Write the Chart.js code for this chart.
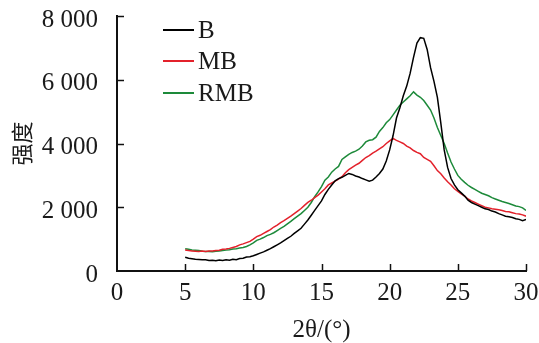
<!DOCTYPE html>
<html>
<head>
<meta charset="utf-8">
<script src="https://cdn.jsdelivr.net/npm/chart.js@4/dist/chart.umd.min.js"></script>
<style>
  html, body { margin: 0; padding: 0; background: #fff; }
  #wrap { width: 539px; height: 343px; }
</style>
</head>
<body>
<div id="wrap"><canvas id="c" width="539" height="343"></canvas></div>
<script>
// 2θ positions (°)
const angles = [
  5, 5.25, 5.5, 5.75, 6, 6.25, 6.5, 6.75, 7, 7.25, 7.5, 7.75, 8, 8.25, 8.5, 8.75,
  9, 9.25, 9.5, 9.75, 10, 10.25, 10.5, 10.75, 11, 11.25, 11.5, 11.75, 12, 12.25, 12.5, 12.75,
  13, 13.25, 13.5, 13.75, 14, 14.25, 14.5, 14.75, 15, 15.25, 15.5, 15.75, 16, 16.25, 16.5, 16.75,
  17, 17.25, 17.5, 17.75, 18, 18.25, 18.5, 18.75, 19, 19.25, 19.5, 19.75, 20, 20.25, 20.5, 20.75,
  21, 21.25, 21.5, 21.75, 22, 22.25, 22.5, 22.75, 23, 23.25, 23.5, 23.75, 24, 24.25, 24.5, 24.75,
  25, 25.25, 25.5, 25.75, 26, 26.25, 26.5, 26.75, 27, 27.25, 27.5, 27.75, 28, 28.25, 28.5, 28.75,
  29, 29.25, 29.5, 29.75, 30
];
const seriesNames = ['B', 'MB', 'RMB'];
const intensityB = [
  430, 400, 385, 370, 360, 350, 355, 330, 340, 320, 345, 330, 350, 340, 370, 355,
  390, 400, 440, 450, 480, 520, 560, 600, 650, 700, 760, 820, 880, 950, 1020, 1090,
  1180, 1260, 1340, 1470, 1600, 1750, 1900, 2050, 2200, 2400, 2560, 2700, 2830, 2900, 2940, 3000,
  3060, 3030, 2980, 2950, 2900, 2860, 2820, 2850, 2950, 3060, 3200, 3450, 3800, 4250, 4800, 5120,
  5500, 5800, 6200, 6700, 7150, 7320, 7300, 6950, 6380, 5950, 5450, 4650, 3800, 3250, 2900, 2700,
  2550, 2450, 2350, 2220, 2150, 2100, 2050, 2000, 1950, 1930, 1880, 1850, 1800, 1760, 1720, 1700,
  1680, 1640, 1620, 1580, 1620
];
const intensityMB = [
  660, 640, 630, 620, 610, 625, 615, 630, 625, 640, 650, 680, 690, 710, 740, 770,
  820, 850, 890, 930, 1000, 1080, 1120, 1180, 1240, 1300, 1380, 1440, 1520, 1580, 1650, 1720,
  1800, 1880, 1960, 2060, 2150, 2220, 2300, 2380, 2480, 2580, 2700, 2760, 2820, 2880, 2960, 3080,
  3180, 3250, 3320, 3380, 3470, 3560, 3620, 3700, 3760, 3830, 3900, 4000, 4080, 4160, 4100, 4050,
  4000, 3920, 3860, 3780, 3720, 3680, 3560, 3500, 3440, 3300, 3150, 3050, 2920, 2800, 2700, 2580,
  2500, 2420, 2350, 2260, 2200, 2150, 2100, 2050, 2000, 1980, 1950, 1940, 1920, 1900, 1870, 1860,
  1830, 1800, 1790, 1760, 1720
];
const intensityRMB = [
  700, 680, 660, 650, 640, 620, 610, 615, 605, 620, 630, 640, 655, 665, 690, 700,
  720, 740, 770, 820, 880, 960, 1000, 1050, 1110, 1150, 1200, 1270, 1340, 1400, 1480, 1560,
  1640, 1720, 1800, 1900, 2000, 2150, 2330, 2480, 2650, 2850, 2950, 3100, 3200, 3280, 3500, 3580,
  3660, 3720, 3760, 3820, 3920, 4050, 4100, 4120, 4200, 4380, 4500, 4650, 4750, 4900, 5050, 5200,
  5300, 5400, 5500, 5620, 5520, 5450, 5350, 5200, 5050, 4800, 4500, 4250, 4000, 3700, 3420, 3200,
  3000, 2880, 2780, 2690, 2620, 2560, 2500, 2440, 2400, 2360, 2300, 2260, 2220, 2180, 2150, 2120,
  2080, 2040, 2020, 1980, 1900
];
const xTickValues = [0, 5, 10, 15, 20, 25, 30];
const yTickValues = [0, 2000, 4000, 6000, 8000];
const xTitle = '2θ/(°)';
const yTitle = '强度';

const colors = ['#000000', '#e3212b', '#1d8a3a'];
const series = [intensityB, intensityMB, intensityRMB];

const serif = "'Liberation Serif', 'Times New Roman', serif";

function fmt(v) {
  return String(v).replace(/\B(?=(\d{3})+(?!\d))/g, ' ');
}

const innerTicks = {
  id: 'innerTicks',
  afterDraw(chart) {
    const { ctx, scales: { x, y } } = chart;
    ctx.save();
    ctx.strokeStyle = '#111';
    ctx.lineWidth = 1.5;
    y.ticks.forEach(t => {
      if (t.value === 0) return;
      const py = Math.round(y.getPixelForValue(t.value)) + 0.5;
      ctx.beginPath(); ctx.moveTo(x.left, py); ctx.lineTo(x.left + 7, py); ctx.stroke();
    });
    x.ticks.forEach(t => {
      if (t.value === 0) return;
      const px = Math.round(x.getPixelForValue(t.value)) + 0.5;
      ctx.beginPath(); ctx.moveTo(px, y.bottom); ctx.lineTo(px, y.bottom - 7); ctx.stroke();
    });
    ctx.restore();
  }
};

const innerLegend = {
  id: 'innerLegend',
  afterDraw(chart) {
    const { ctx } = chart;
    const rows = [30, 61, 93];
    ctx.save();
    ctx.font = "25px " + serif;
    ctx.textBaseline = 'middle';
    ctx.textAlign = 'left';
    chart.data.datasets.forEach((ds, i) => {
      const yy = rows[i];
      ctx.strokeStyle = ds.borderColor;
      ctx.lineWidth = 2;
      ctx.beginPath(); ctx.moveTo(163, yy); ctx.lineTo(194, yy); ctx.stroke();
      ctx.fillStyle = '#1a1a1a';
      ctx.fillText(ds.label, 198, yy + 1);
    });
    ctx.restore();
  }
};

new Chart(document.getElementById('c'), {
  type: 'line',
  data: {
    datasets: seriesNames.map((name, i) => ({
      label: name,
      data: angles.map((a, j) => ({ x: a, y: series[i][j] })),
      borderColor: colors[i],
      backgroundColor: colors[i],
      borderWidth: 1.5,
      pointRadius: 0,
      tension: 0,
      fill: false
    }))
  },
  options: {
    responsive: false,
    animation: false,
    layout: { padding: { left: 0, right: 13, top: 16, bottom: 0 } },
    plugins: { legend: { display: false }, tooltip: { enabled: false } },
    scales: {
      x: {
        type: 'linear',
        min: 0, max: 30,
        afterBuildTicks(scale) { scale.ticks = xTickValues.map(v => ({ value: v })); },
        afterFit(scale) { scale.height = 72; scale.paddingLeft = 0; scale.paddingRight = 0; },
        grid: { display: true, drawOnChartArea: false, drawTicks: false },
        border: { display: true, color: '#111', width: 2 },
        ticks: { color: '#1a1a1a', font: { family: serif, size: 25 }, padding: 7, maxRotation: 0, callback: v => fmt(v) },
        title: { display: true, text: xTitle, color: '#1a1a1a', font: { family: serif, size: 25, lineHeight: 1 }, padding: { top: 0, bottom: 0 } }
      },
      y: {
        type: 'linear',
        min: 0, max: 8000,
        afterBuildTicks(scale) { scale.ticks = yTickValues.map(v => ({ value: v })); },
        afterFit(scale) { scale.width = 117; scale.paddingTop = 0; scale.paddingBottom = 0; },
        grid: { display: true, drawOnChartArea: false, drawTicks: false },
        border: { display: true, color: '#111', width: 2 },
        ticks: { color: '#1a1a1a', font: { family: serif, size: 25 }, padding: 19, labelOffset: 4, callback: v => fmt(v) },
        title: { display: true, text: yTitle, color: '#1a1a1a', font: { family: "'Noto Sans CJK SC', sans-serif", size: 22, lineHeight: 1.2 }, padding: { top: 8, bottom: 0 } }
      }
    }
  },
  plugins: [innerTicks, innerLegend]
});
</script>
</body>
</html>
